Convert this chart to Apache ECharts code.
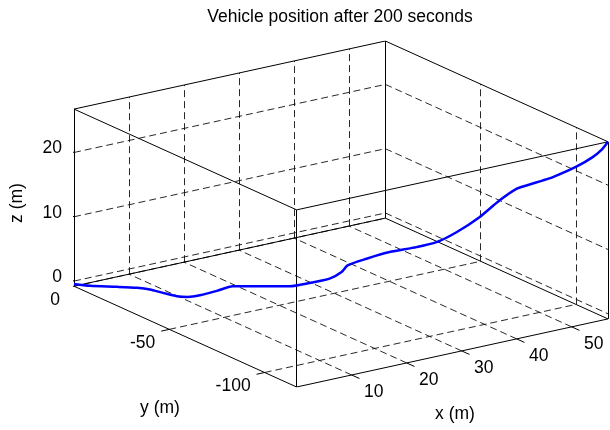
<!DOCTYPE html>
<html>
<head>
<meta charset="utf-8">
<script src="https://cdn.jsdelivr.net/npm/echarts@6/dist/echarts.min.js"></script>
<style>
  html, body { margin: 0; padding: 0; background: #fff; }
  #chart { width: 610px; height: 430px; }
</style>
</head>
<body>
<div id="chart"></div>
<script>
// Vehicle trajectory samples (metres)
const posX = [0, 1.55, 4.67, 6.93, 8.17, 8.92, 9.82, 11.06, 12.9, 15.8, 18.59, 22.49, 25.03,
  27.01, 28.99, 30.18, 30.78, 32.66, 34.94, 37.61, 39.59, 41.57, 43.85, 45.83, 47.52, 48.51,
  50.09, 51.08, 53.46, 55.04, 56.03, 56.6];
const posY = [0, -3.91, -9.06, -13.02, -16.25, -20.9, -25.65, -27.83, -28.8, -29.33, -29.63, -36.21, -40.91,
  -45.68, -50.43, -53.3, -54.72, -59.24, -64.72, -71.15, -75.91, -80.68, -86.16, -90.92, -94.97, -97.35,
  -101.15, -103.54, -109.25, -113.06, -115.44, -116.8];
const posZ = [-0.45, -0.5, -0.55, -0.6, -0.65, -0.7, -0.75, -0.8, -0.75, -0.55, -0.3, -0.15, 0,
  0.78, 1.72, 2.91, 4.03, 5.32, 6.66, 7.79, 8.83, 10.65, 13.3, 16.16, 18.2, 18.85,
  19.83, 20.48, 22.46, 24.12, 25.55, 26.75];

const xTicks = [10, 20, 30, 40, 50];
const yTicks = [0, -50, -100];
const zTicks = [0, 10, 20];

const titleText = 'Vehicle position after 200 seconds';
const xName = 'x (m)';
const yName = 'y (m)';
const zName = 'z (m)';

// Orthographic camera: azimuth / elevation and plot-box proportions
const AZ = -34.8 * Math.PI / 180;
const EL = 18.2 * Math.PI / 180;
const BOX = [381, 392, 186];

// Tight axis limits from the data
const xl = [Math.min(...posX), Math.max(...posX)];
const yl = [Math.min(...posY), Math.max(...posY)];
const zl = [Math.min(...posZ), Math.max(...posZ)];

function proj(x, y, z) {
  const X = (x - xl[0]) / (xl[1] - xl[0]) * BOX[0];
  const Y = (y - yl[0]) / (yl[1] - yl[0]) * BOX[1];
  const Z = (z - zl[0]) / (zl[1] - zl[0]) * BOX[2];
  const ca = Math.cos(AZ), sa = Math.sin(AZ), se = Math.sin(EL), ce = Math.cos(EL);
  return [ca * X + sa * Y, -se * sa * X + se * ca * Y + ce * Z];
}
function seg(a, b) { return { coords: [proj(...a), proj(...b)] }; }

// Box corners
const corners = [];
for (const x of xl) for (const y of yl) for (const z of zl) corners.push(proj(x, y, z));
const uMin = Math.min(...corners.map(c => c[0])), uMax = Math.max(...corners.map(c => c[0]));
const vMin = Math.min(...corners.map(c => c[1])), vMax = Math.max(...corners.map(c => c[1]));

// 12 box edges
const boxEdges = [];
for (const y of yl) for (const z of zl) boxEdges.push(seg([xl[0], y, z], [xl[1], y, z]));
for (const x of xl) for (const z of zl) boxEdges.push(seg([x, yl[0], z], [x, yl[1], z]));
for (const x of xl) for (const y of yl) boxEdges.push(seg([x, y, zl[0]], [x, y, zl[1]]));

// Grid lines on floor and the two back walls
const grid = [];
for (const x of xTicks) {
  grid.push(seg([x, yl[0], zl[0]], [x, yl[1], zl[0]]));
  grid.push(seg([x, yl[1], zl[0]], [x, yl[1], zl[1]]));
}
for (const y of yTicks) {
  grid.push(seg([xl[0], y, zl[0]], [xl[1], y, zl[0]]));
  grid.push(seg([xl[1], y, zl[0]], [xl[1], y, zl[1]]));
}
for (const z of zTicks) {
  grid.push(seg([xl[0], yl[1], z], [xl[1], yl[1], z]));
  grid.push(seg([xl[1], yl[1], z], [xl[1], yl[0], z]));
}

// Tick marks
const xr = xl[1] - xl[0], yr = yl[1] - yl[0];
const ticks = [];
for (const x of xTicks) ticks.push(seg([x, yl[0], zl[0]], [x, yl[0] - 0.035 * yr, zl[0]]));
for (const y of yTicks) ticks.push(seg([xl[0], y, zl[0]], [xl[0] - 0.026 * xr, y, zl[0]]));
for (const z of zTicks) ticks.push(seg([xl[0], yl[1], z], [xl[0], yl[1] + 0.027 * yr, z]));

const path = posX.map((x, i) => proj(x, posY[i], posZ[i]));

const FONT = '"Liberation Sans", Arial, Helvetica, sans-serif';
const FS = 17.5;

const chart = echarts.init(document.getElementById('chart'), null, { renderer: 'canvas' });
chart.setOption({
  animation: false,
  backgroundColor: '#fff',
  grid: { left: 74, right: 2, top: 41, bottom: 43 },
  xAxis: { type: 'value', min: uMin, max: uMax, show: false },
  yAxis: { type: 'value', min: vMin, max: vMax, show: false },
  series: [
    {
      type: 'lines', coordinateSystem: 'cartesian2d', silent: true, z: 1,
      lineStyle: { color: '#111', width: 0.9, type: [7, 4], opacity: 1 },
      data: grid
    },
    {
      type: 'lines', coordinateSystem: 'cartesian2d', silent: true, z: 2,
      lineStyle: { color: '#000', width: 1, type: 'solid', opacity: 1 },
      data: boxEdges.concat(ticks)
    },
    {
      type: 'line', silent: true, z: 3, smooth: 0.25, symbol: 'none',
      lineStyle: { color: '#0000ff', width: 2.5 },
      data: path
    }
  ]
});

// Text: tick labels anchored on projected tick positions, plus title and axis names
const px = p => chart.convertToPixel({ gridIndex: 0 }, p);
const texts = [];
function txt(x, y, s, align, rot) {
  texts.push({
    type: 'text', x, y, rotation: rot || 0, silent: true,
    style: { text: s, fontSize: FS, fontFamily: FONT, fill: '#000', align: align || 'center', verticalAlign: 'middle' }
  });
}
for (const x of xTicks) { const p = px(proj(x, yl[0], zl[0])); txt(p[0] + 22, p[1] + 17, String(x), 'center'); }
for (const y of yTicks) { const p = px(proj(xl[0], y, zl[0])); txt(p[0] - 14, p[1] + 14, String(y), 'right'); }
for (const z of zTicks) { const p = px(proj(xl[0], yl[1], z)); txt(p[0] - 12, p[1] - 4, String(z), 'right'); }
txt(340, 17, titleText, 'center');
txt(455, 414, xName, 'center');
txt(160, 408, yName, 'center');
txt(17, 203, zName, 'center', Math.PI / 2);

chart.setOption({ graphic: { elements: texts } });
</script>
</body>
</html>
